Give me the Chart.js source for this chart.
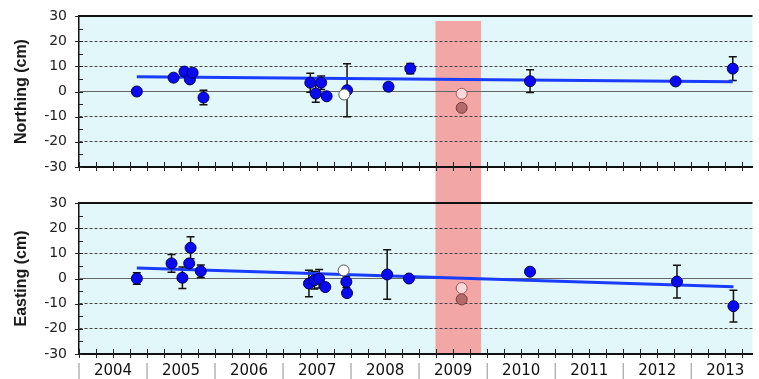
<!DOCTYPE html>
<html>
<head>
<meta charset="utf-8">
<script src="https://cdn.jsdelivr.net/npm/chart.js@4.4.1/dist/chart.umd.min.js"></script>
<style>
  html, body { margin: 0; padding: 0; background: #fff; overflow: hidden; }
  #wrap { position: relative; width: 759px; height: 379px; }
  .panel { position: absolute; left: 0; width: 759px; }
  #north-box { top: 0; height: 185px; }
  #east-box { top: 185px; height: 194px; }
</style>
</head>
<body>
<div id="wrap">
  <div class="panel" id="north-box"><canvas id="north-chart"></canvas></div>
  <div class="panel" id="east-box"><canvas id="east-chart"></canvas></div>
</div>
<script>
// time axis (decimal years) and the shaded gap period
const YEAR_MIN = 2004;
const YEAR_MAX = 2013.9;
const GAP_PERIOD = [2009.24, 2009.91];
const GAP_TOP_VALUE = 28;

// Northing (cm)
const northTimes = [2004.85, 2005.39, 2005.55, 2005.63, 2005.67, 2005.83, 2007.40, 2007.48, 2007.56, 2007.64, 2007.94, 2008.55, 2008.87, 2010.63, 2012.77, 2013.61];
const northValues = [0, 5.5, 7.9, 4.8, 7.5, -2.4, 3.5, -0.8, 3.5, -1.9, 0.5, 1.9, 9.1, 4.1, 4.0, 9.1];
const northErrors = [1.5, 0, 1, 0, 0, 2.9, 3.8, 3.5, 2.7, 0, 10.5, 1.5, 2, 4.5, 0, 4.7];
const northExcludedTimes = [2007.90];
const northExcludedValues = [-1.2];
const northGapTimes = [2009.625];
const northGapOpenValues = [-0.9];
const northGapFilledValues = [-6.5];
const northTrendTimes = [2004.85, 2013.61];
const northTrendValues = [5.9, 3.9];

// Easting (cm)
const eastTimes = [2004.85, 2005.36, 2005.52, 2005.62, 2005.64, 2005.79, 2007.38, 2007.46, 2007.53, 2007.62, 2007.93, 2007.94, 2008.53, 2008.85, 2010.63, 2012.79, 2013.62];
const eastValues = [0, 6.0, 0.3, 6.0, 12.2, 2.9, -2.0, -0.7, -0.1, -3.4, -1.3, -5.8, 1.6, 0.0, 2.7, -1.2, -11.0];
const eastErrors = [2.3, 3.5, 4.3, 0, 4.4, 2.5, 5.3, 3.5, 3.7, 0, 2.3, 0, 9.8, 0, 0, 6.5, 6.3];
const eastExcludedTimes = [2007.89];
const eastExcludedValues = [3.2];
const eastGapTimes = [2009.625];
const eastGapOpenValues = [-3.8];
const eastGapFilledValues = [-8.3];
const eastTrendTimes = [2004.85, 2013.62];
const eastTrendValues = [4.2, -3.3];

const points = (times, values) => times.map((t, i) => ({ x: t, y: values[i] }));

//background, gap band, error bars and axis tick marks
const panelDecor = {
  id: "panelDecor",
  beforeDraw(chart, args, opts) {
    const { ctx, chartArea: a, scales } = chart;
    ctx.save();
    ctx.fillStyle = "#e2f7f9";
    ctx.fillRect(a.left, a.top, a.right - a.left, a.bottom - a.top);
    const x0 = scales.x.getPixelForValue(GAP_PERIOD[0]);
    const x1 = scales.x.getPixelForValue(GAP_PERIOD[1]);
    const yTop = opts.lowerPanel ? 0 : scales.y.getPixelForValue(GAP_TOP_VALUE);
    const yBottom = opts.lowerPanel ? a.bottom : chart.height;
    ctx.fillStyle = "#f3a6a6";
    ctx.fillRect(x0, yTop, x1 - x0, yBottom - yTop);
    ctx.restore();
  },
  beforeDatasetsDraw(chart) {
    const { ctx, scales: { x, y } } = chart;
    ctx.save();
    ctx.strokeStyle = "#111";
    ctx.lineWidth = 1.5;
    chart.data.datasets.forEach((ds) => {
      if (!ds.errors) return;
      ds.data.forEach((p, i) => {
        const e = ds.errors[i];
        if (!e) return;
        const px = x.getPixelForValue(p.x);
        const hi = y.getPixelForValue(p.y + e);
        const lo = y.getPixelForValue(p.y - e);
        ctx.beginPath();
        ctx.moveTo(px, hi); ctx.lineTo(px, lo);
        ctx.moveTo(px - 4, hi); ctx.lineTo(px + 4, hi);
        ctx.moveTo(px - 4, lo); ctx.lineTo(px + 4, lo);
        ctx.stroke();
      });
    });
    ctx.restore();
  },
  afterDraw(chart) {
    const { ctx, chartArea: a, scales: { x, y } } = chart;
    ctx.save();
    ctx.strokeStyle = "#222";
    ctx.lineWidth = 1;
    x.ticks.forEach((t) => {
      const px = Math.round(x.getPixelForValue(t.value)) + 0.5;
      ctx.beginPath(); ctx.moveTo(px, a.bottom - 5); ctx.lineTo(px, a.bottom + 4); ctx.stroke();
    });
    y.ticks.forEach((t) => {
      const py = Math.round(y.getPixelForValue(t.value)) + 0.5;
      const out = t.value % 10 === 0 ? 4 : 0;
      ctx.beginPath(); ctx.moveTo(a.left - out, py); ctx.lineTo(a.left + 4, py); ctx.stroke();
    });
    ctx.strokeStyle = "#111";
    ctx.lineWidth = 2;
    ctx.beginPath(); ctx.moveTo(a.left, a.top); ctx.lineTo(a.right, a.top); ctx.stroke();
    ctx.restore();
  },
};

function buildDatasets(s) {
  return [
    { data: points(s.exTimes, s.exValues), pointRadius: 5.5, backgroundColor: "#ffffff", borderColor: "#555555", borderWidth: 1 },
    { data: points(s.gapTimes, s.gapOpen), pointRadius: 5.5, backgroundColor: "#fbd8d8", borderColor: "#a85858", borderWidth: 1 },
    { data: points(s.gapTimes, s.gapFilled), pointRadius: 5.5, backgroundColor: "#b46a6a", borderColor: "#7a3a3a", borderWidth: 1 },
    { data: points(s.times, s.values), errors: s.errors, pointRadius: 5.5, backgroundColor: "#0a0af0", borderColor: "#00005a", borderWidth: 1 },
    { data: points(s.trendTimes, s.trendValues), showLine: true, pointRadius: 0, borderColor: "#1a3cff", borderWidth: 3 },
  ];
}

function buildOptions(title, lowerPanel) {
  return {
    responsive: true,
    maintainAspectRatio: false,
    animation: false,
    events: [],
    layout: { padding: { top: lowerPanel ? 18 : 16, left: 0, right: 0, bottom: 0 } },
    plugins: { legend: { display: false }, tooltip: { enabled: false }, panelDecor: { lowerPanel } },
    scales: {
      x: {
        type: "linear",
        min: YEAR_MIN,
        max: YEAR_MAX,
        afterFit(scale) {
          scale.height = lowerPanel ? 25 : 18;
          scale.paddingLeft = 0;
          scale.paddingRight = 0;
        },
        grid: { drawOnChartArea: false, drawTicks: false },
        border: { color: "#111", width: 2 },
        ticks: {
          display: lowerPanel,
          stepSize: 0.25,
          autoSkip: false,
          maxRotation: 0,
          includeBounds: false,
          padding: 8,
          font: { family: "DejaVu Sans", size: 15 },
          color: (c) => (c.tick && c.tick.value % 1 === 0 ? "#aaaaaa" : "#111111"),
          callback: (v) => (v % 1 === 0.5 ? String(Math.floor(v)) : v % 1 === 0 ? "|" : ""),
        },
      },
      y: {
        min: -30,
        max: 30,
        afterFit(scale) {
          scale.width = 79;
          scale.paddingTop = 0;
          scale.paddingBottom = 0;
        },
        grid: {
          drawTicks: false,
          lineWidth: 1,
          color: (c) => {
            const v = c.tick ? c.tick.value : null;
            if (v === 0) return "#666666";
            return v !== null && v % 10 === 0 && Math.abs(v) < 30 ? "#444444" : "rgba(0,0,0,0)";
          },
        },
        border: { color: "#111", width: 1.5, dash: (c) => (c.tick && c.tick.value !== 0 ? [3, 2] : []) },
        ticks: {
          stepSize: 5,
          autoSkip: false,
          padding: 12,
          font: { family: "DejaVu Sans", size: 14 },
          color: "#222",
          callback: (v) => (v % 10 === 0 ? v : ""),
        },
        title: {
          display: true,
          text: title,
          font: { family: "Liberation Sans", size: 16, weight: "bold" },
          color: "#1a1a1a",
          padding: { top: 12 },
        },
      },
    },
  };
}

new Chart(document.getElementById("north-chart"), {
  type: "scatter",
  data: {
    datasets: buildDatasets({
      times: northTimes, values: northValues, errors: northErrors,
      exTimes: northExcludedTimes, exValues: northExcludedValues,
      gapTimes: northGapTimes, gapOpen: northGapOpenValues, gapFilled: northGapFilledValues,
      trendTimes: northTrendTimes, trendValues: northTrendValues,
    }),
  },
  options: buildOptions("Northing (cm)", false),
  plugins: [panelDecor],
});

new Chart(document.getElementById("east-chart"), {
  type: "scatter",
  data: {
    datasets: buildDatasets({
      times: eastTimes, values: eastValues, errors: eastErrors,
      exTimes: eastExcludedTimes, exValues: eastExcludedValues,
      gapTimes: eastGapTimes, gapOpen: eastGapOpenValues, gapFilled: eastGapFilledValues,
      trendTimes: eastTrendTimes, trendValues: eastTrendValues,
    }),
  },
  options: buildOptions("Easting (cm)", true),
  plugins: [panelDecor],
});
</script>
</body>
</html>
